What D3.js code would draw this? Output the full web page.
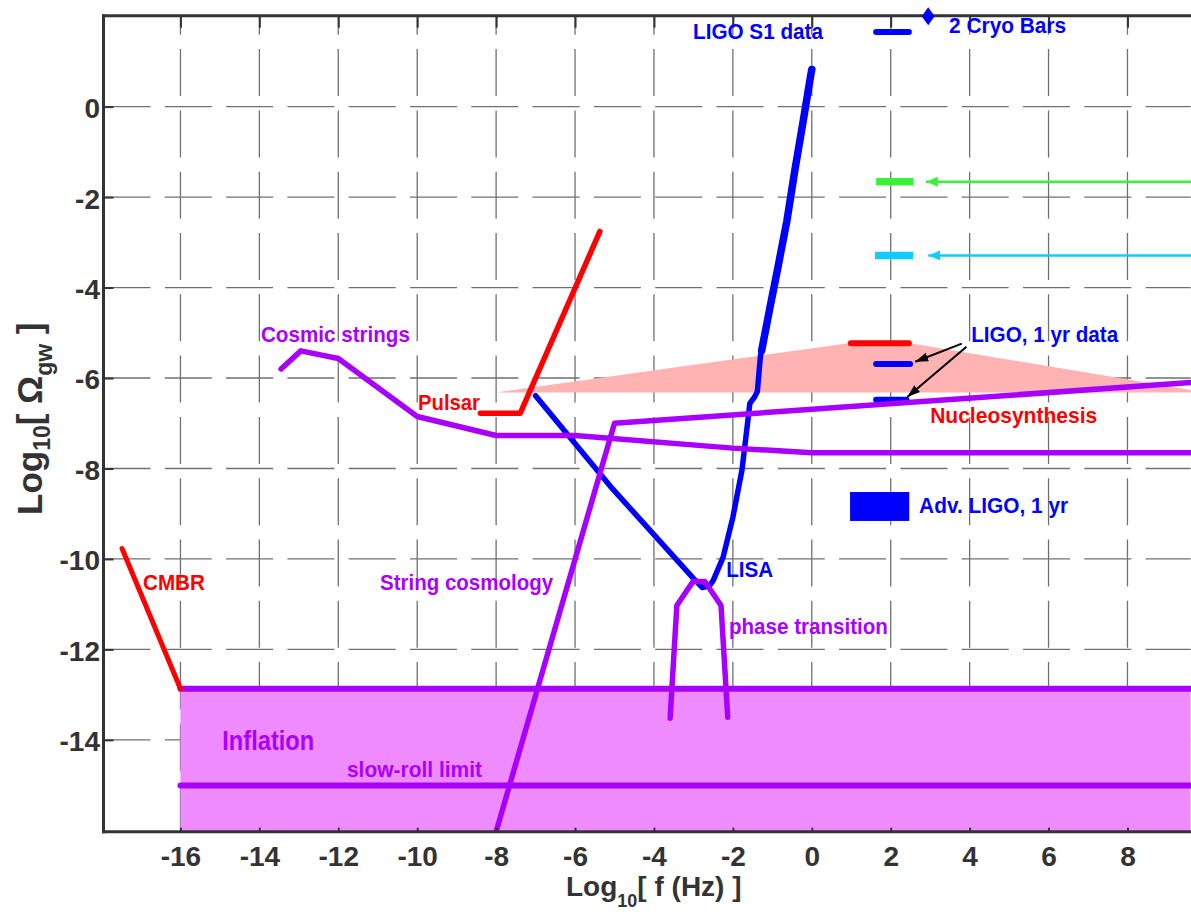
<!DOCTYPE html>
<html><head><meta charset="utf-8">
<script src="https://cdn.jsdelivr.net/npm/d3@7"></script>
<style>
body{margin:0;background:#fff}
svg{display:block}
text{font-family:"Liberation Sans",Arial,Helvetica,sans-serif;font-weight:bold}
</style>
</head><body>
<svg id="chart" width="1191" height="914"></svg>
<script>
// ---------- data ----------
const xTicks = [-16,-14,-12,-10,-8,-6,-4,-2,0,2,4,6,8];
const yTicks = [-14,-12,-10,-8,-6,-4,-2,0];
const xDomain = [-17.95, 9.6];
const yDomain = [2.01, -16.03];

const cmbr = [[-17.48,-9.77],[-16,-12.87]];
const inflationX = [-16, 9.6];
const inflationTop = -12.87;
const slowRoll = -15.01;
const cosmicStrings = [[-13.45,-5.8],[-12.95,-5.4],[-12,-5.57],[-10,-6.85],[-8,-7.27],[-6,-7.27],[-2,-7.55],[0,-7.65],[9.6,-7.65]];
const pulsar = [[-8.4,-6.78],[-7.39,-6.78],[-5.37,-2.76]];
const nucleosynthesis = [[-8,-6.32],[0.93,-5.23],[2.49,-5.23],[10.0,-6.32]];
const lisa = [[-7.0,-6.39],[-5.1,-8.40],[-3.0,-10.43],[-2.78,-10.63],[-2.6,-10.6],[-2.5,-10.48],[-2.25,-9.97],[-2.0,-9.08],[-1.77,-8.04],[-1.65,-7.16],[-1.57,-6.56],[-1.45,-6.42],[-1.38,-6.3],[-1.3,-5.5],[-1.27,-5.39]];
const ligoS1 = [[-1.27,-5.39],[-1.06,-4.44],[-0.86,-3.56],[-0.63,-2.52],[-0.43,-1.41],[-0.23,-0.38],[-0.02,0.73],[0,0.82]];
const stringCosmology = [[-8.0,-16.03],[-5.0,-7.0],[9.6,-6.1]];
const phaseTransition = [[-3.59,-13.52],[-3.42,-11.03],[-3.01,-10.5],[-2.71,-10.5],[-2.30,-11.03],[-2.13,-13.5]];

// sensitivity bars [x0, x1, y]
const cryoBar = [1.63, 2.46, 1.65];
const ligoRedBar = [0.99, 2.46, -5.23];
const ligoBlueBar1 = [1.63, 2.49, -5.69];
const ligoBlueBar2 = [1.63, 2.40, -6.48];
const greenBar = [1.63, 2.58, -1.66];
const cyanBar = [1.60, 2.57, -3.29];
const advLigo = [0.97, 2.47, -8.52, -9.16];
const cryoDiamond = [2.95, 2.0];

// arrows [from, to]
const greenArrow = [[9.7,-1.66],[2.89,-1.66]];
const cyanArrow = [[9.7,-3.29],[2.95,-3.29]];
const blackArrow1 = [[3.80,-5.24],[2.62,-5.64]];
const blackArrow2 = [[3.92,-5.31],[2.42,-6.42]];

// text labels
const labelText = ["LIGO S1 data","2 Cryo Bars","LIGO, 1 yr data","Nucleosynthesis","Adv. LIGO, 1 yr","LISA","phase transition","Cosmic strings","Pulsar","String cosmology","CMBR","Inflation","slow-roll limit"];
const labelX = [-3.01, 3.48, 4.04, 3.0, 2.72, -2.17, -2.10, -13.96, -9.98, -10.94, -16.95, -14.94, -11.78];
const labelY = [1.50, 1.63, -5.20, -6.99, -8.98, -10.39, -11.65, -5.2, -6.7, -10.68, -10.68, -14.22, -14.82];

// ---------- style ----------
const BLUE="#0000ff", RED="#ff0000", PURPLE="#a800ff", PTEXT="#aa00ff";
const GREEN="#3cf03c", CYAN="#11ccff", AX="#333333";
const labelColor = [BLUE,BLUE,BLUE,RED,BLUE,BLUE,PTEXT,PTEXT,RED,PTEXT,RED,PTEXT,PTEXT];
const labelLen = [130,117,147,167,149,47,159,149,62,173,62,92,135];
const labelSize = [22,22,22,22,22,22,22,22,22,22,22,28,22];

const svg = d3.select("#chart");
const x = d3.scaleLinear().domain(xDomain).range([103.5, 1190.6]);
const y = d3.scaleLinear().domain(yDomain).range([15.7, 831.7]);
const line = d3.line().x(d=>x(d[0])).y(d=>y(d[1]));

const defs = svg.append("defs");
defs.append("clipPath").attr("id","clip").append("rect")
  .attr("x",x(xDomain[0])).attr("y",y(yDomain[0]))
  .attr("width",x(xDomain[1])-x(xDomain[0])+2).attr("height",y(yDomain[1])-y(yDomain[0]));
function marker(id,color,len,wid){
  defs.append("marker").attr("id",id).attr("markerUnits","userSpaceOnUse")
    .attr("markerWidth",len).attr("markerHeight",wid).attr("refX",len).attr("refY",wid/2)
    .attr("orient","auto").append("path")
    .attr("d",`M0,0L${len},${wid/2}L0,${wid}Z`).attr("fill",color);
}
marker("mGreen",GREEN,12,10);
marker("mCyan",CYAN,12,10);
marker("mBlack","#000",13,9);

// ---------- grid ----------
const grid = svg.append("g");
yTicks.forEach(t=>{
  grid.append("line").attr("x1",x(xDomain[0])).attr("x2",x(xDomain[1])).attr("y1",y(t)).attr("y2",y(t))
    .attr("stroke","#707070").attr("stroke-width",1.3).attr("stroke-dasharray","47 14.3");
});
xTicks.forEach(t=>{
  grid.append("line").attr("x1",x(t)).attr("x2",x(t)).attr("y1",y(yDomain[1])).attr("y2",y(yDomain[0]))
    .attr("stroke","#707070").attr("stroke-width",1.3).attr("stroke-dasharray","47 14.3");
});

const plot = svg.append("g").attr("clip-path","url(#clip)");

// fills
plot.append("path").attr("d",line(nucleosynthesis)+"Z").attr("fill","#ffb3b3");
plot.append("path")
  .datum(inflationX)
  .attr("d",d3.area().x(d=>x(d)).y0(y(yDomain[1])).y1(y(inflationTop)))
  .attr("fill","#ee8bff");

function stroke(data,color,w,cap){
  return plot.append("path").attr("d",line(data)).attr("fill","none").attr("stroke",color)
    .attr("stroke-width",w).attr("stroke-linecap",cap||"round").attr("stroke-linejoin","round");
}
// inflation lines
stroke(inflationX.map(v=>[v,inflationTop]),PURPLE,6);
stroke(inflationX.map(v=>[v,slowRoll]),PURPLE,6);
stroke(cmbr,RED,5);
stroke(pulsar,RED,5.5);
// bars
[[ligoRedBar,RED],[ligoBlueBar1,BLUE],[ligoBlueBar2,BLUE],[cryoBar,BLUE]].forEach(([b,c])=>{
  stroke([[b[0],b[2]],[b[1],b[2]]],c,6,"round");
});
[[greenBar,GREEN],[cyanBar,CYAN]].forEach(([b,c])=>{
  stroke([[b[0],b[2]],[b[1],b[2]]],c,7.5,"butt");
});
plot.append("rect").attr("x",x(advLigo[0])).attr("y",y(advLigo[2]))
  .attr("width",x(advLigo[1])-x(advLigo[0])).attr("height",y(advLigo[3])-y(advLigo[2])).attr("fill",BLUE);
// blue curve
stroke(lisa,BLUE,5.5);
stroke(ligoS1,BLUE,7.5);
// purple curves
stroke(cosmicStrings,PURPLE,5.5);
stroke(stringCosmology,PURPLE,5.5);
stroke(phaseTransition,PURPLE,5.5);

// arrows
function arrow(a,color,w,m){
  plot.append("path").attr("d",line(a)).attr("stroke",color).attr("stroke-width",w).attr("fill","none")
   .attr("marker-end",`url(#${m})`);
}
arrow(greenArrow,GREEN,2.5,"mGreen");
arrow(cyanArrow,CYAN,2.5,"mCyan");

// ---------- axes ----------
const fmt = d => String(d);
const axL = svg.append("g").attr("transform",`translate(${x(xDomain[0])},0)`)
  .call(d3.axisLeft(y).tickValues(yTicks).tickSizeInner(-10).tickSizeOuter(0).tickPadding(3.5).tickFormat(fmt));
const axB = svg.append("g").attr("transform",`translate(0,${y(yDomain[1])})`)
  .call(d3.axisBottom(x).tickValues(xTicks).tickSizeInner(-4).tickSizeOuter(0).tickPadding(14.5).tickFormat(fmt));
const axT = svg.append("g").attr("transform",`translate(0,${y(yDomain[0])})`)
  .call(d3.axisTop(x).tickValues(xTicks).tickSizeInner(-12).tickSizeOuter(0).tickFormat(""));
[axL,axB,axT].forEach(g=>{
  g.select(".domain").attr("stroke",AX).attr("stroke-width",3);
  g.selectAll(".tick line").attr("stroke",AX).attr("stroke-width",2);
  g.selectAll(".tick text").attr("fill",AX).attr("font-size",28)
   .attr("font-family",'"Liberation Sans",Arial,sans-serif').attr("font-weight","bold");
});
axL.selectAll(".tick text").attr("dy","0.39em");
axB.select(".domain").attr("d",`M${x(xDomain[0])-1.5},0H1191`);
axT.select(".domain").attr("d",`M${x(xDomain[0])-1.5},0H1191`);
axL.select(".domain").attr("d",`M0,${y(yDomain[0])-1.5}V${y(yDomain[1])+1.5}`);

// diamond (drawn over axis)
svg.append("path").attr("d",()=>{const cx=x(cryoDiamond[0]),cy=y(cryoDiamond[1]);
  return `M${cx},${cy-9}L${cx+6.5},${cy}L${cx},${cy+9}L${cx-6.5},${cy}Z`;}).attr("fill",BLUE);

// black arrows
[blackArrow1,blackArrow2].forEach(a=>{
  svg.append("path").attr("d",line(a)).attr("stroke","#000").attr("stroke-width",2).attr("fill","none")
    .attr("marker-end","url(#mBlack)");
});

// ---------- labels ----------
labelText.forEach((t,i)=>{
  svg.append("text").attr("x",x(labelX[i])).attr("y",y(labelY[i]))
    .attr("fill",labelColor[i]).attr("font-size",labelSize[i])
    .attr("textLength",labelLen[i]).attr("lengthAdjust","spacingAndGlyphs").text(t);
});

// axis titles
const xt = svg.append("text").attr("x",566).attr("y",896).attr("fill",AX).attr("font-size",28);
xt.append("tspan").text("Log");
xt.append("tspan").attr("font-size",18).attr("dy",11).text("10");
xt.append("tspan").attr("dy",-11).text("[ f (Hz) ]");

const yt = svg.append("text").attr("transform","translate(42,515) rotate(-90)").attr("fill",AX).attr("font-size",35);
yt.append("tspan").text("Log");
yt.append("tspan").attr("font-size",23).attr("dy",8).text("10");
yt.append("tspan").attr("dy",-8).text("[ Ω");
yt.append("tspan").attr("font-size",23).attr("dy",10).text("gw");
yt.append("tspan").attr("dy",-10).text(" ]");
</script>
</body></html>
